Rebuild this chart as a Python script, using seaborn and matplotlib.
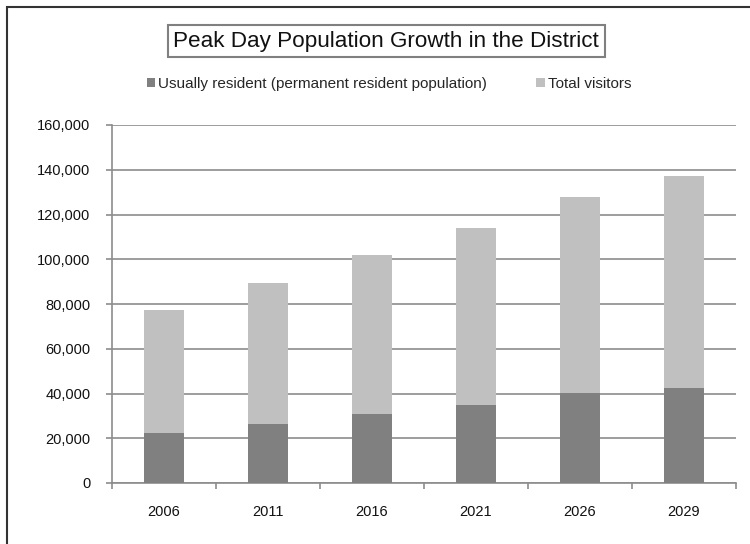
import matplotlib
matplotlib.use("Agg")
import matplotlib.pyplot as plt
from matplotlib.patches import Patch, Rectangle
from matplotlib.ticker import FuncFormatter, FixedLocator
import seaborn as sns
import pandas as pd

# Peak day population by year
years = ["2006", "2011", "2016", "2021", "2026", "2029"]
resident = [22400, 26400, 30900, 34800, 40200, 42600]
visitors = [54800, 63100, 70900, 79200, 87700, 94500]

series_labels = ["Usually resident (permanent resident population)", "Total visitors"]
title_text = "Peak Day Population Growth in the District"

resident_color = "#808080"
visitor_color = "#c0c0c0"
grid_color = "#8c8c8c"

sns.set_theme(style="white")
plt.rcParams["font.family"] = ["Liberation Sans", "DejaVu Sans"]

df = pd.DataFrame({
    "year": years,
    "resident": resident,
    "visitors": visitors,
})
df["total"] = df["resident"] + df["visitors"]

fig = plt.figure(figsize=(7.5, 5.44), dpi=100)
ax = fig.add_axes([112 / 750, 1 - 483 / 544, (736 - 112) / 750, (483 - 125) / 544])

# Stacked columns: total height in light grey, resident share on top of it in dark grey
sns.barplot(data=df, x="year", y="total", color=visitor_color, saturation=1,
            width=0.385, ax=ax, zorder=3, linewidth=0)
sns.barplot(data=df, x="year", y="resident", color=resident_color, saturation=1,
            width=0.385, ax=ax, zorder=4, linewidth=0)

ax.set_xlim(-0.5, len(years) - 0.5)
ax.set_ylim(0, 160000)
ax.set_yticks(range(0, 160001, 20000))
ax.yaxis.set_major_formatter(FuncFormatter(lambda v, p: f"{int(v):,}"))
ax.set_xlabel("")
ax.set_ylabel("")

ax.grid(axis="y", color=grid_color, linewidth=1.2, zorder=0)
ax.grid(axis="x", visible=False)
ax.set_axisbelow(True)

for side in ["top", "right"]:
    ax.spines[side].set_visible(False)
for side in ["left", "bottom"]:
    ax.spines[side].set_color(grid_color)
    ax.spines[side].set_linewidth(1.2)

# Category ticks sit between the columns
ax.xaxis.set_minor_locator(FixedLocator([i - 0.5 for i in range(len(years) + 1)]))
ax.tick_params(axis="x", which="major", length=0, pad=16, labelsize=10.5, labelcolor="#111111")
ax.tick_params(axis="x", which="minor", length=4, width=1.2, color=grid_color, direction="out")
ax.tick_params(axis="y", which="major", length=4.5, width=1.2, color=grid_color,
               direction="out", pad=11, labelsize=10.5, labelcolor="#111111")
ax.tick_params(bottom=True, left=True, which="both")

# Title in a framed box
fig.text(386 / 750, 1 - 41 / 544, title_text, ha="center", va="center",
         fontsize=16.2, color="#111111",
         bbox=dict(boxstyle="square,pad=0.25", facecolor="white",
                   edgecolor="#808080", linewidth=1.5))

handles = [Patch(facecolor=resident_color, edgecolor="none"),
           Patch(facecolor=visitor_color, edgecolor="none")]
fig.legend(handles, series_labels, loc="center", bbox_to_anchor=(389 / 750, 1 - 84 / 544),
           ncol=2, frameon=False, fontsize=11, handlelength=0.55, handleheight=0.55,
           handletextpad=0.2, columnspacing=3.2, borderaxespad=0)

# Chart-area frame
fig.patches.append(Rectangle((7 / 750, -0.1), 1.2, 1.1 - 7 / 544,
                             transform=fig.transFigure, fill=False,
                             edgecolor="#333333", linewidth=1.5))

fig.savefig("out.png", dpi=100)
